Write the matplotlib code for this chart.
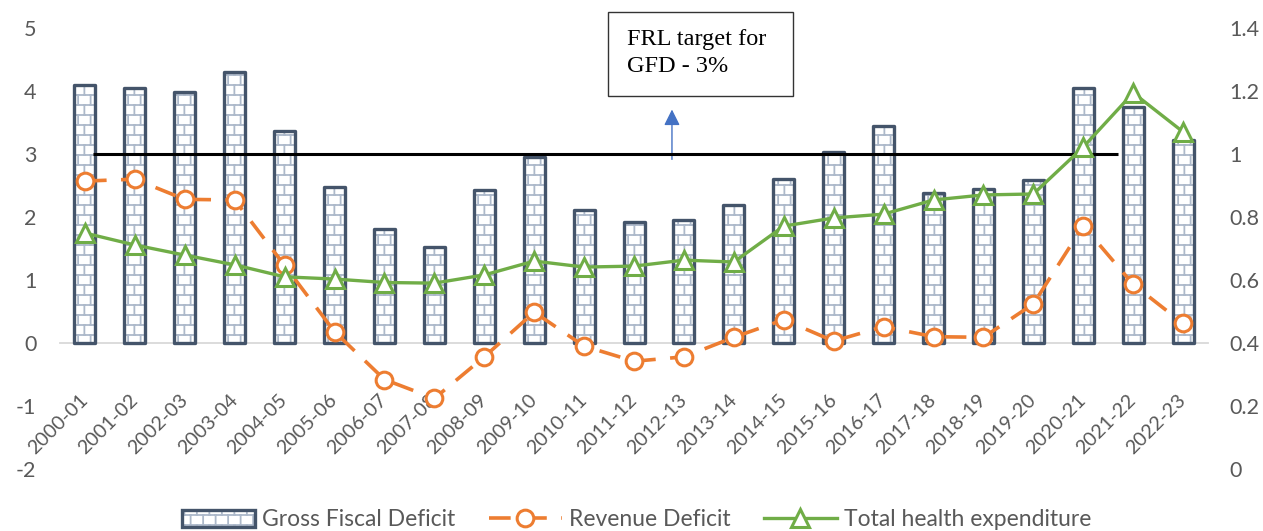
import warnings
import numpy as np
import matplotlib
matplotlib.use("Agg")
import matplotlib.pyplot as plt
import matplotlib.hatch as mhatch
from matplotlib.path import Path
from matplotlib.patches import Patch, Rectangle
from matplotlib.legend_handler import HandlerTuple

warnings.filterwarnings("ignore")

# data
years = ["2000-01", "2001-02", "2002-03", "2003-04", "2004-05", "2005-06",
         "2006-07", "2007-08", "2008-09", "2009-10", "2010-11", "2011-12",
         "2012-13", "2013-14", "2014-15", "2015-16", "2016-17", "2017-18",
         "2018-19", "2019-20", "2020-21", "2021-22", "2022-23"]
gfd = [4.10, 4.05, 3.98, 4.30, 3.37, 2.47, 1.81, 1.53, 2.43, 2.95, 2.11, 1.92,
       1.95, 2.19, 2.60, 3.03, 3.44, 2.38, 2.44, 2.59, 4.05, 3.75, 3.22]
rev_def = [2.57, 2.60, 2.28, 2.27, 1.23, 0.18, -0.58, -0.88, -0.22, 0.49, -0.05, -0.29,
           -0.22, 0.09, 0.37, 0.03, 0.26, 0.10, 0.09, 0.62, 1.86, 0.93, 0.31]
health = [0.749, 0.711, 0.679, 0.648, 0.610, 0.603, 0.592, 0.590, 0.616, 0.660, 0.641, 0.644,
          0.663, 0.657, 0.771, 0.797, 0.809, 0.854, 0.870, 0.873, 1.022, 1.194, 1.070]
frl_target = 3


# brick fill like the excel pattern
class BrickHatch(mhatch.HatchPatternBase):
    rows = 10
    cols = 8

    def __init__(self, hatch, density):
        self.num_vertices = 0
        if "b" in hatch:
            self.num_vertices = (self.rows + (self.rows + 1) * self.cols) * 2

    def set_vertices_and_codes(self, vertices, codes):
        segs = []
        for i in range(self.rows):
            y = (i + 0.5) / self.rows
            segs.append(((0, y), (1, y)))
        for i in range(self.rows + 1):
            off = 0.5 if i % 2 else 0.0
            y0 = (i - 0.5) / self.rows
            y1 = (i + 0.5) / self.rows
            for j in range(self.cols):
                x = (j + 0.25 + off) / self.cols
                segs.append(((x, y0), (x, y1)))
        vertices[:] = np.array(segs).reshape(-1, 2)
        codes[0::2] = Path.MOVETO
        codes[1::2] = Path.LINETO


mhatch._hatch_types.append(BrickHatch)
plt.rcParams["hatch.linewidth"] = 1.3
plt.rcParams["font.family"] = ["Lato", "DejaVu Sans"]

gray = "#595959"
fs = 15.5

fig = plt.figure(figsize=(12.63, 5.31), dpi=100)
ax = fig.add_axes([0.0475, 0.1168, 0.909, 0.8305])
ax2 = ax.twinx()
ax.set_zorder(ax2.get_zorder() - 1)
ax2.patch.set_visible(False)

x = np.arange(len(years))
ax.bar(x, gfd, width=0.42, facecolor="white", edgecolor="#ADB9CA", hatch="b", linewidth=0, zorder=2)
ax.bar(x, gfd, width=0.42, facecolor="none", edgecolor="#44546A", linewidth=2.4,
       joinstyle="round", zorder=3)

ax.hlines(frl_target, 0.16, 20.7, color="black", linewidth=2.2, zorder=4)

rd_line, = ax2.plot(x, [(v + 2) * 0.2 for v in rev_def], color="#ED7D31", linewidth=2.6,
                    dashes=(6, 4), marker="o", markersize=12, markerfacecolor="white",
                    markeredgecolor="#ED7D31", markeredgewidth=2.2, zorder=5)
th_line, = ax2.plot(x, health, color="#70AD47", linewidth=2.4, marker="^", markersize=13,
                    markerfacecolor="white", markeredgecolor="#70AD47", markeredgewidth=2.2,
                    zorder=6)

ax.set_xlim(-0.5, len(years) - 0.5)
ax.set_ylim(-2, 5)
ax2.set_ylim(0, 1.4)
ax.set_yticks(range(-2, 6))
ax.set_yticklabels([str(v) for v in range(-2, 6)])
rt = [0, 0.2, 0.4, 0.6, 0.8, 1.0, 1.2, 1.4]
ax2.set_yticks(rt)
ax2.set_yticklabels(["0", "0.2", "0.4", "0.6", "0.8", "1", "1.2", "1.4"])

for a in (ax, ax2):
    for s in a.spines.values():
        s.set_visible(False)
ax.spines["bottom"].set_visible(True)
ax.spines["bottom"].set_position(("data", 0))
ax.spines["bottom"].set_color("#D9D9D9")
ax.spines["bottom"].set_linewidth(1.3)
ax.spines["bottom"].set_zorder(1)

ax.set_xticks(x)
ax.set_xticklabels(years, rotation=45, ha="right", va="center", rotation_mode="anchor")
ax.tick_params(axis="x", length=0, pad=39, labelsize=14.2, labelcolor=gray)
ax.tick_params(axis="y", length=0, pad=17, labelsize=fs, labelcolor=gray)
ax2.tick_params(axis="y", length=0, pad=15.5, labelsize=fs, labelcolor=gray)

# arrow + text box
ax.annotate("", xy=(11.76, 3.75), xytext=(11.76, 2.87),
            arrowprops=dict(arrowstyle="-|>", color="#4472C4", lw=1, mutation_scale=24))
fig.patches.append(Rectangle((0.4814, 0.8192), 0.1465, 0.1582, transform=fig.transFigure,
                             facecolor="white", edgecolor="#333333", linewidth=1))
fig.text(0.4964, 0.9455, "FRL target for\nGFD - 3%", family="Liberation Serif",
         fontsize=17.5, va="top", ha="left", linespacing=1.35)

bar_h = (Patch(facecolor="white", edgecolor="#ADB9CA", hatch="b", linewidth=0),
         Patch(facecolor="none", edgecolor="#44546A", linewidth=2.4))
fig.legend([bar_h, rd_line, th_line],
           ["Gross Fiscal Deficit", "Revenue Deficit", "Total health expenditure"],
           handler_map={tuple: HandlerTuple(ndivide=1)},
           loc="center", bbox_to_anchor=(0.504, 0.021), ncol=3, frameon=False,
           fontsize=16.5, labelcolor=gray, handlelength=3.2, handleheight=0.75,
           handletextpad=0.3, columnspacing=1.45)

fig.savefig("out.png", dpi=100)
